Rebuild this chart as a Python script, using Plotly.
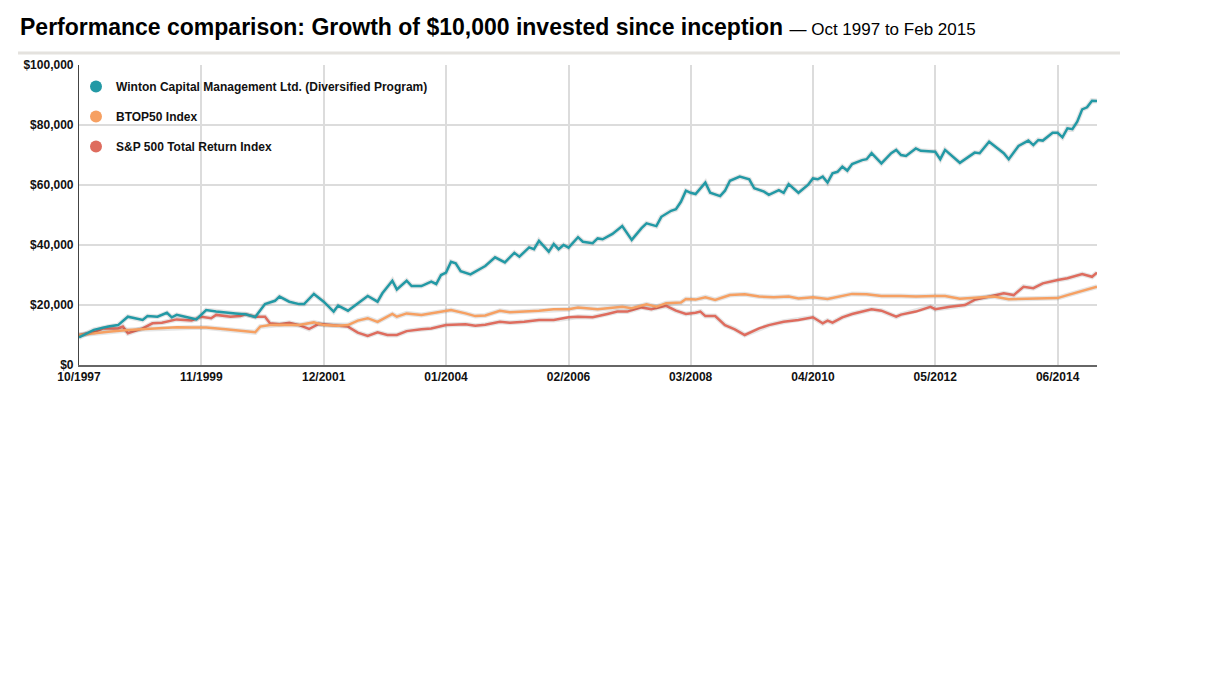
import plotly.graph_objects as go

# ---------------- data (values in $ thousands) ----------------
winton_dates = ["1997-10","1998-01","1998-04","1998-06","1998-08","1998-09","1998-11","1998-12",
    "1999-02","1999-04","1999-05","1999-06","1999-07","1999-09","1999-10","1999-12",
    "2000-02","2000-04","2000-06","2000-08","2000-10","2000-12","2001-02","2001-03",
    "2001-05","2001-07","2001-08","2001-10","2001-12","2002-02","2002-03","2002-05",
    "2002-07","2002-09","2002-11","2002-12","2003-02","2003-03","2003-05","2003-06",
    "2003-08","2003-10","2003-11","2003-12","2004-01","2004-02","2004-03","2004-04",
    "2004-06","2004-08","2004-09","2004-11","2005-01","2005-03","2005-04","2005-06",
    "2005-07","2005-08","2005-10","2005-11","2005-12","2006-01","2006-02","2006-04",
    "2006-05","2006-07","2006-08","2006-09","2006-11","2007-01","2007-03","2007-05",
    "2007-06","2007-08","2007-09","2007-11","2007-12","2008-01","2008-02","2008-03",
    "2008-04","2008-06","2008-07","2008-09","2008-10","2008-11","2009-01","2009-03",
    "2009-04","2009-06","2009-07","2009-09","2009-10","2009-11","2010-01","2010-03",
    "2010-04","2010-05","2010-06","2010-07","2010-08","2010-09","2010-10","2010-11",
    "2010-12","2011-02","2011-03","2011-04","2011-06","2011-08","2011-09","2011-10",
    "2011-11","2012-01","2012-02","2012-05","2012-06","2012-07","2012-10","2013-01",
    "2013-02","2013-04","2013-06","2013-07","2013-08","2013-10","2013-12","2014-01",
    "2014-02","2014-03","2014-05","2014-06","2014-07","2014-08","2014-09","2014-10",
    "2014-11","2014-12","2015-01","2015-02"]
winton_values = [9.2,11.7,12.8,13.3,16.1,15.7,15.0,16.3,
    16.1,17.4,15.9,16.7,16.4,15.6,15.2,18.3,
    17.8,17.4,17.2,16.9,16.0,20.3,21.4,22.8,
    21.1,20.3,20.3,23.7,21.1,17.8,19.8,18.1,
    20.6,23.0,21.1,23.9,28.1,25.2,28.1,26.3,
    26.3,27.8,27.0,30.0,30.8,34.4,33.9,31.3,
    30.2,32.2,33.0,35.9,34.2,37.4,36.1,39.2,
    38.6,41.4,37.8,40.3,38.6,40.0,39.1,42.6,
    41.1,40.6,42.2,41.9,43.7,46.3,41.7,45.6,
    47.2,46.3,49.4,51.4,51.9,54.4,58.1,57.4,
    57.0,60.8,57.4,56.3,58.1,61.4,62.8,61.9,
    58.9,57.8,56.7,58.3,57.4,60.3,57.4,60.0,
    62.2,61.9,62.8,60.8,63.9,64.4,66.1,64.8,
    67.0,68.3,68.6,70.6,67.2,70.6,71.7,70.0,
    69.7,72.2,71.4,71.1,68.6,71.7,67.4,70.8,
    70.6,74.4,71.9,70.6,68.6,73.0,74.8,73.3,
    75.0,74.8,77.4,77.4,75.9,78.9,78.6,81.1,
    85.2,85.9,88.1,88.0]

btop_dates = ["1997-10","1998-01","1998-04","1998-08","1998-11","1999-02","1999-06","1999-09",
    "1999-12","2000-04","2000-07","2000-10","2000-11","2001-01","2001-03","2001-07",
    "2001-10","2001-12","2002-03","2002-05","2002-07","2002-09","2002-11","2003-02",
    "2003-03","2003-05","2003-08","2003-10","2004-02","2004-05","2004-07","2004-09",
    "2004-12","2005-02","2005-05","2005-08","2005-11","2006-02","2006-04","2006-08",
    "2006-10","2007-01","2007-03","2007-06","2007-08","2007-10","2008-01","2008-02",
    "2008-04","2008-06","2008-08","2008-11","2009-02","2009-05","2009-08","2009-11",
    "2010-01","2010-04","2010-07","2010-10","2010-12","2011-03","2011-06","2011-10",
    "2012-01","2012-05","2012-07","2012-10","2013-02","2013-05","2013-08","2013-12",
    "2014-06","2014-08","2014-11","2015-02"]
btop_values = [10.0,10.6,11.1,11.7,11.9,12.2,12.6,12.5,
    12.5,11.9,11.3,10.9,12.8,13.3,13.4,13.3,
    14.2,13.3,13.1,13.3,14.8,15.6,14.4,17.0,
    16.1,17.2,16.7,17.2,18.3,17.2,16.3,16.5,
    18.1,17.6,17.8,18.1,18.6,18.6,19.2,18.6,
    18.9,19.4,18.9,20.2,19.4,20.6,20.8,22.0,
    21.8,22.6,21.7,23.3,23.6,22.8,22.6,22.8,
    22.2,22.6,22.0,23.1,23.7,23.6,23.0,23.0,
    22.8,23.0,23.0,22.1,22.6,22.8,21.9,22.1,
    22.3,23.3,24.8,26.1]

sp_dates = ["1997-10","1998-01","1998-03","1998-06","1998-07","1998-08","1998-11","1999-01",
    "1999-03","1999-05","1999-06","1999-09","1999-11","2000-01","2000-02","2000-05",
    "2000-07","2000-08","2000-10","2000-12","2001-01","2001-03","2001-05","2001-07",
    "2001-09","2001-11","2002-02","2002-05","2002-07","2002-09","2002-11","2003-01",
    "2003-03","2003-05","2003-08","2003-10","2004-01","2004-05","2004-07","2004-09",
    "2004-12","2005-02","2005-05","2005-08","2005-11","2006-02","2006-04","2006-07",
    "2006-10","2006-12","2007-02","2007-05","2007-07","2007-10","2007-12","2008-02",
    "2008-04","2008-05","2008-06","2008-08","2008-10","2008-12","2009-02","2009-05",
    "2009-07","2009-10","2010-01","2010-04","2010-06","2010-07","2010-08","2010-10",
    "2010-12","2011-04","2011-06","2011-09","2011-10","2011-11","2012-01","2012-04",
    "2012-05","2012-08","2012-11","2013-01","2013-05","2013-07","2013-09","2013-11",
    "2014-01","2014-03","2014-06","2014-08","2014-11","2015-01","2015-02"]
sp_values = [10.0,10.9,12.2,12.2,12.8,10.6,12.2,13.9,
    14.1,14.8,15.2,14.8,16.1,15.6,16.7,16.1,
    16.3,16.9,16.1,16.1,13.9,13.6,14.1,13.3,
    12.0,13.7,13.3,12.8,10.8,9.7,10.9,10.0,
    10.0,11.3,11.9,12.2,13.3,13.6,13.1,13.4,
    14.4,14.1,14.4,15.0,15.0,15.9,16.1,15.9,
    17.0,17.8,17.8,19.2,18.6,19.7,18.1,17.0,
    17.4,17.8,16.3,16.3,13.3,11.9,10.0,12.2,
    13.3,14.4,15.0,15.9,13.9,14.8,14.1,15.9,
    17.0,18.6,18.1,16.1,16.8,17.2,17.8,19.4,
    18.6,19.4,20.0,21.7,23.0,23.9,23.3,26.1,
    25.6,27.2,28.3,28.9,30.3,29.4,30.8]

series_names = ["Winton Capital Management Ltd. (Diversified Program)",
                "BTOP50 Index", "S&P 500 Total Return Index"]
series_colors = ["#2399a5", "#f6a062", "#de6c5e"]

x_tick_dates = ["1997-10","1999-11","2001-12","2004-01","2006-02","2008-03","2010-04","2012-05","2014-06"]
x_tick_labels = ["10/1997","11/1999","12/2001","01/2004","02/2006","03/2008","04/2010","05/2012","06/2014"]
y_tick_values = [0, 20000, 40000, 60000, 80000, 100000]
y_tick_labels = ["$0", "$20,000", "$40,000", "$60,000", "$80,000", "$100,000"]

title_main = "Performance comparison: Growth of $10,000 invested since inception"
title_sub = "— Oct 1997 to Feb 2015"

# ---------------- figure ----------------
OFF = 8  # default page margin of the browser
W, H = 1230 - OFF, 692 - OFF
L, R, T, B = 79 - OFF, 1097 - OFF, 65 - OFF, 365 - OFF  # plot area in figure pixels
FONT = "Liberation Sans, Arial, sans-serif"

fig = go.Figure()
data = [(winton_dates, winton_values), (btop_dates, btop_values), (sp_dates, sp_values)]

# soft shadows under lines (draw order: S&P, BTOP, Winton -> Winton on top)
for idx in [2, 1, 0]:
    d, v = data[idx]
    fig.add_trace(go.Scatter(x=d, y=[val * 1000 for val in v], mode="lines",
                             line=dict(color="rgba(0,0,0,0.10)", width=5),
                             showlegend=False, hoverinfo="skip"))
    fig.add_trace(go.Scatter(x=d, y=[val * 1000 for val in v], mode="lines",
                             line=dict(color=series_colors[idx], width=2.5),
                             name=series_names[idx], showlegend=False))

# legend entries as circles
for i, (nm, col) in enumerate(zip(series_names, series_colors)):
    fig.add_trace(go.Scatter(x=[None], y=[None], mode="markers",
                             marker=dict(size=13, color=col),
                             name="<b>" + nm + "</b>", legendgroup=str(i),
                             legendrank=i + 1, showlegend=True))

pw, ph = R - L, B - T
def px(xp): return (xp - OFF - L) / pw      # reference-screen x -> paper
def py(yp): return (B - (yp - OFF)) / ph    # reference-screen y -> paper

fig.update_layout(
    width=W, height=H,
    margin=dict(l=L, r=W - R, t=T, b=H - B, pad=0),
    paper_bgcolor="white", plot_bgcolor="white",
    font=dict(family=FONT, color="#111111", size=12),
    showlegend=True,
    legend=dict(x=px(76), y=py(72), xanchor="left", yanchor="top",
                bgcolor="rgba(0,0,0,0)", font=dict(size=12, family=FONT, color="#111"),
                traceorder="grouped", tracegroupgap=11, itemsizing="constant", itemwidth=30),
    xaxis=dict(type="date", range=["1997-10-01", "2015-02-01"],
               tickvals=x_tick_dates, ticktext=["<b>" + t + "</b>" for t in x_tick_labels],
               showgrid=True, gridcolor="#dcdcdc", gridwidth=1.5,
               showline=True, linecolor="#666666", linewidth=2,
               ticks="", tickfont=dict(size=12, family=FONT, color="#111"),
               zeroline=False, fixedrange=True),
    yaxis=dict(range=[0, 100000], tickvals=y_tick_values,
               ticktext=["<b>" + t + "</b>" for t in y_tick_labels],
               showgrid=True, gridcolor="#dcdcdc", gridwidth=1.5,
               showline=True, linecolor="#444444", linewidth=1.2,
               ticks="", ticklabelstandoff=2, tickfont=dict(size=12, family=FONT, color="#111"),
               zeroline=False, fixedrange=True),
)

fig.add_annotation(xref="paper", yref="paper", x=px(18), y=py(27),
                   xanchor="left", yanchor="middle", showarrow=False,
                   text="<b>" + title_main + "</b> <span style='font-size:17px'>" + title_sub + "</span>",
                   font=dict(size=23, family=FONT, color="#000"))

fig.add_shape(type="line", xref="paper", yref="paper",
              x0=px(18), x1=px(1120), y0=py(53), y1=py(53),
              line=dict(color="#e4e2de", width=3))

fig.write_html("out.html")
